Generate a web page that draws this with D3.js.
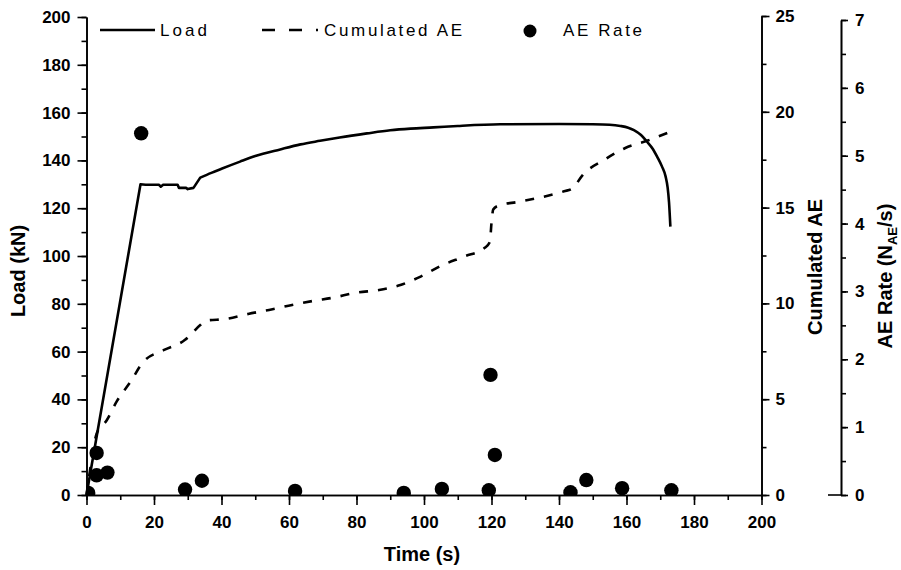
<!DOCTYPE html>
<html>
<head>
<meta charset="utf-8">
<script src="https://cdn.jsdelivr.net/npm/d3@7"></script>
<style>
  body { margin: 0; background: #fff; }
  svg { display: block; }
  .tick text { font-family: "Liberation Sans", Arial, sans-serif; font-weight: bold; font-size: 17px; fill: #000; }
  .domain, .tick line { stroke: #000; stroke-width: 1.6; }
</style>
</head>
<body>
<svg id="chart" width="901" height="570"></svg>
<script>
// ---- data ----
const loadTime   = [0, 16, 17.5, 21.5, 22, 22.7, 23.2, 27, 27.4, 29.5, 30, 31.7, 33.7, 37, 40, 45.5, 50, 57.4, 63.4, 69.2, 75, 83.1, 90, 96, 102.8, 110, 122.6, 140, 150, 155, 158.2, 160.5, 162.2, 164.3, 166.1, 167.8, 169.1, 170.5, 171.6, 172.2, 172.6, 173.0];
const loadValues = [0, 130, 129.8, 129.8, 129, 129.8, 129.8, 129.8, 128.5, 128.5, 128, 128.5, 132.8, 134.8, 136.5, 139.5, 141.8, 144.6, 146.7, 148.2, 149.6, 151.3, 152.6, 153.3, 153.8, 154.4, 155.1, 155.2, 155.1, 154.9, 154.4, 153.7, 152.7, 150.6, 147.8, 144.8, 141.5, 137.5, 133.2, 128.5, 122.5, 112.3];
const loadSmoothFrom = 12; // index (t = 33.7 s) from which the load curve is smooth

const aeTime   = [0, 1.5, 3, 6, 9, 13, 16.8, 23, 29.2, 30.5, 33.7, 35.5, 41.4, 47.9, 54.1, 60.9, 67.2, 73.1, 80, 86.7, 93, 99, 105.5, 112, 118, 119.5, 120, 120.5, 122, 128, 135, 141.5, 144, 147, 153.5, 159.5, 166.3, 173.5];
const aeValues = [0, 1.8, 3.2, 3.9, 4.9, 5.9, 6.94, 7.57, 8.1, 8.3, 8.87, 9.1, 9.19, 9.45, 9.66, 9.92, 10.13, 10.3, 10.56, 10.7, 10.96, 11.4, 12.0, 12.45, 12.9, 13.2, 14.2, 14.9, 15.1, 15.3, 15.55, 15.85, 16.0, 16.7, 17.5, 18.1, 18.5, 19.0];

const rateTime   = [0.5, 3, 3, 6.2, 16.2, 29.2, 34.2, 61.8, 94, 105.3, 119.2, 119.7, 121, 143.4, 148.1, 158.7, 173.3];
const rateValues = [0.03, 0.62, 0.29, 0.33, 5.33, 0.08, 0.21, 0.06, 0.03, 0.09, 0.07, 1.77, 0.59, 0.04, 0.22, 0.1, 0.07];

const timeTicks = [0, 20, 40, 60, 80, 100, 120, 140, 160, 180, 200];
const loadTicks = [0, 20, 40, 60, 80, 100, 120, 140, 160, 180, 200];
const aeTicks   = [0, 5, 10, 15, 20, 25];
const rateTicks = [0, 1, 2, 3, 4, 5, 6, 7];

// ---- scales ----
const svg = d3.select("#chart");
const x = d3.scaleLinear().domain([0, 200]).range([86.5, 761.5]);
const yLoad = d3.scaleLinear().domain([0, 200]).range([495, 17]);
const yAE = d3.scaleLinear().domain([0, 25]).range([495, 16]);
const yRate = d3.scaleLinear().domain([0, 7]).range([495, 20]);
const fmt = d3.format("d");

const minor = (a, b, step) => d3.range(a, b + step / 2, step);

// ---- axes ----
svg.append("g").attr("transform", "translate(86.5,0)")
  .call(d3.axisLeft(yLoad).tickValues(minor(0, 200, 10)).tickSize(5).tickFormat("").tickSizeOuter(0));
svg.append("g").attr("transform", "translate(86.5,0)")
  .call(d3.axisLeft(yLoad).tickValues(loadTicks).tickFormat(fmt).tickSize(9).tickPadding(7).tickSizeOuter(0));
svg.append("g").attr("transform", "translate(0,495)")
  .call(d3.axisBottom(x).tickValues(minor(0, 200, 10)).tickSize(5).tickFormat("").tickSizeOuter(0));
svg.append("g").attr("transform", "translate(0,495)")
  .call(d3.axisBottom(x).tickValues(timeTicks).tickFormat(fmt).tickSize(10).tickPadding(11).tickSizeOuter(0));
svg.append("g").attr("transform", "translate(761.5,0)")
  .call(d3.axisRight(yAE).tickValues(minor(0, 25, 2.5)).tickSize(5).tickFormat("").tickSizeOuter(0));
svg.append("g").attr("transform", "translate(761.5,0)")
  .call(d3.axisRight(yAE).tickValues(aeTicks).tickFormat(fmt).tickSize(8).tickPadding(6).tickSizeOuter(0));
svg.append("g").attr("transform", "translate(841,0)")
  .call(d3.axisRight(yRate).tickValues(minor(0, 7, 0.5)).tickSize(5).tickFormat("").tickSizeOuter(0));
svg.append("g").attr("transform", "translate(841,0)")
  .call(d3.axisRight(yRate).tickValues(rateTicks).tickFormat(fmt).tickSize(7).tickPadding(7).tickSizeOuter(0));
svg.append("line").attr("x1", 828).attr("x2", 841).attr("y1", yRate(0)).attr("y2", yRate(0))
  .attr("stroke", "#000").attr("stroke-width", 1.6);

// ---- clip ----
svg.append("clipPath").attr("id", "plotclip").append("rect")
  .attr("x", 86.5).attr("y", 0).attr("width", 675).attr("height", 495);

// ---- lines ----
const loadPts = loadTime.map((t, i) => [t, loadValues[i]]);
const loadLinear = d3.line().x(d => x(d[0])).y(d => yLoad(d[1]));
const loadSmooth = d3.line().x(d => x(d[0])).y(d => yLoad(d[1])).curve(d3.curveMonotoneX);
const loadD = loadLinear(loadPts.slice(0, loadSmoothFrom + 1)) +
  loadSmooth(loadPts.slice(loadSmoothFrom)).replace(/^M/, "L");
svg.append("path").attr("d", loadD)
  .attr("fill", "none").attr("stroke", "#000").attr("stroke-width", 2.6).attr("stroke-linejoin", "round");

const aeLine = d3.line().x((d, i) => x(aeTime[i])).y(d => yAE(d)).curve(d3.curveMonotoneX);
svg.append("path").datum(aeValues).attr("d", aeLine)
  .attr("fill", "none").attr("stroke", "#000").attr("stroke-width", 2.6).attr("stroke-dasharray", "9,10");

// ---- dots ----
svg.append("g").attr("clip-path", "url(#plotclip)")
  .selectAll("circle").data(rateValues).join("circle")
  .attr("cx", (d, i) => x(rateTime[i])).attr("cy", d => yRate(d)).attr("r", 7.2).attr("fill", "#000");

// ---- legend ----
const lg = svg.append("g");
const legFont = "'Liberation Sans', Arial, sans-serif";
lg.append("line").attr("x1", 100).attr("x2", 155).attr("y1", 30).attr("y2", 30)
  .attr("stroke", "#000").attr("stroke-width", 2.6);
lg.append("text").attr("x", 160).attr("y", 36).text("Load")
  .attr("font-family", legFont).attr("font-size", 17).attr("textLength", 47).attr("lengthAdjust", "spacing");
lg.append("line").attr("x1", 262).attr("x2", 318).attr("y1", 30).attr("y2", 30)
  .attr("stroke", "#000").attr("stroke-width", 2.6).attr("stroke-dasharray", "13,14");
lg.append("text").attr("x", 324).attr("y", 36).text("Cumulated AE")
  .attr("font-family", legFont).attr("font-size", 17).attr("textLength", 138).attr("lengthAdjust", "spacing");
lg.append("circle").attr("cx", 530).attr("cy", 31).attr("r", 6.5).attr("fill", "#000");
lg.append("text").attr("x", 563).attr("y", 36).text("AE Rate")
  .attr("font-family", legFont).attr("font-size", 17).attr("textLength", 79).attr("lengthAdjust", "spacing");

// ---- axis titles ----
const titleFont = "'Liberation Sans', Arial, sans-serif";
svg.append("text").attr("transform", "translate(25,271) rotate(-90)").attr("text-anchor", "middle")
  .attr("font-family", titleFont).attr("font-weight", "bold").attr("font-size", 20).text("Load (kN)");
svg.append("text").attr("x", 422).attr("y", 561).attr("text-anchor", "middle")
  .attr("font-family", titleFont).attr("font-weight", "bold").attr("font-size", 20).text("Time (s)");
svg.append("text").attr("transform", "translate(822,267) rotate(-90)").attr("text-anchor", "middle")
  .attr("font-family", titleFont).attr("font-weight", "bold").attr("font-size", 20).text("Cumulated AE");
const rt = svg.append("text").attr("transform", "translate(892,276) rotate(-90)").attr("text-anchor", "middle")
  .attr("font-family", titleFont).attr("font-weight", "bold").attr("font-size", 20);
rt.append("tspan").text("AE Rate (N");
rt.append("tspan").attr("font-size", 13).attr("dy", 5).text("AE");
rt.append("tspan").attr("dy", -5).text("/s)");
</script>
</body>
</html>
